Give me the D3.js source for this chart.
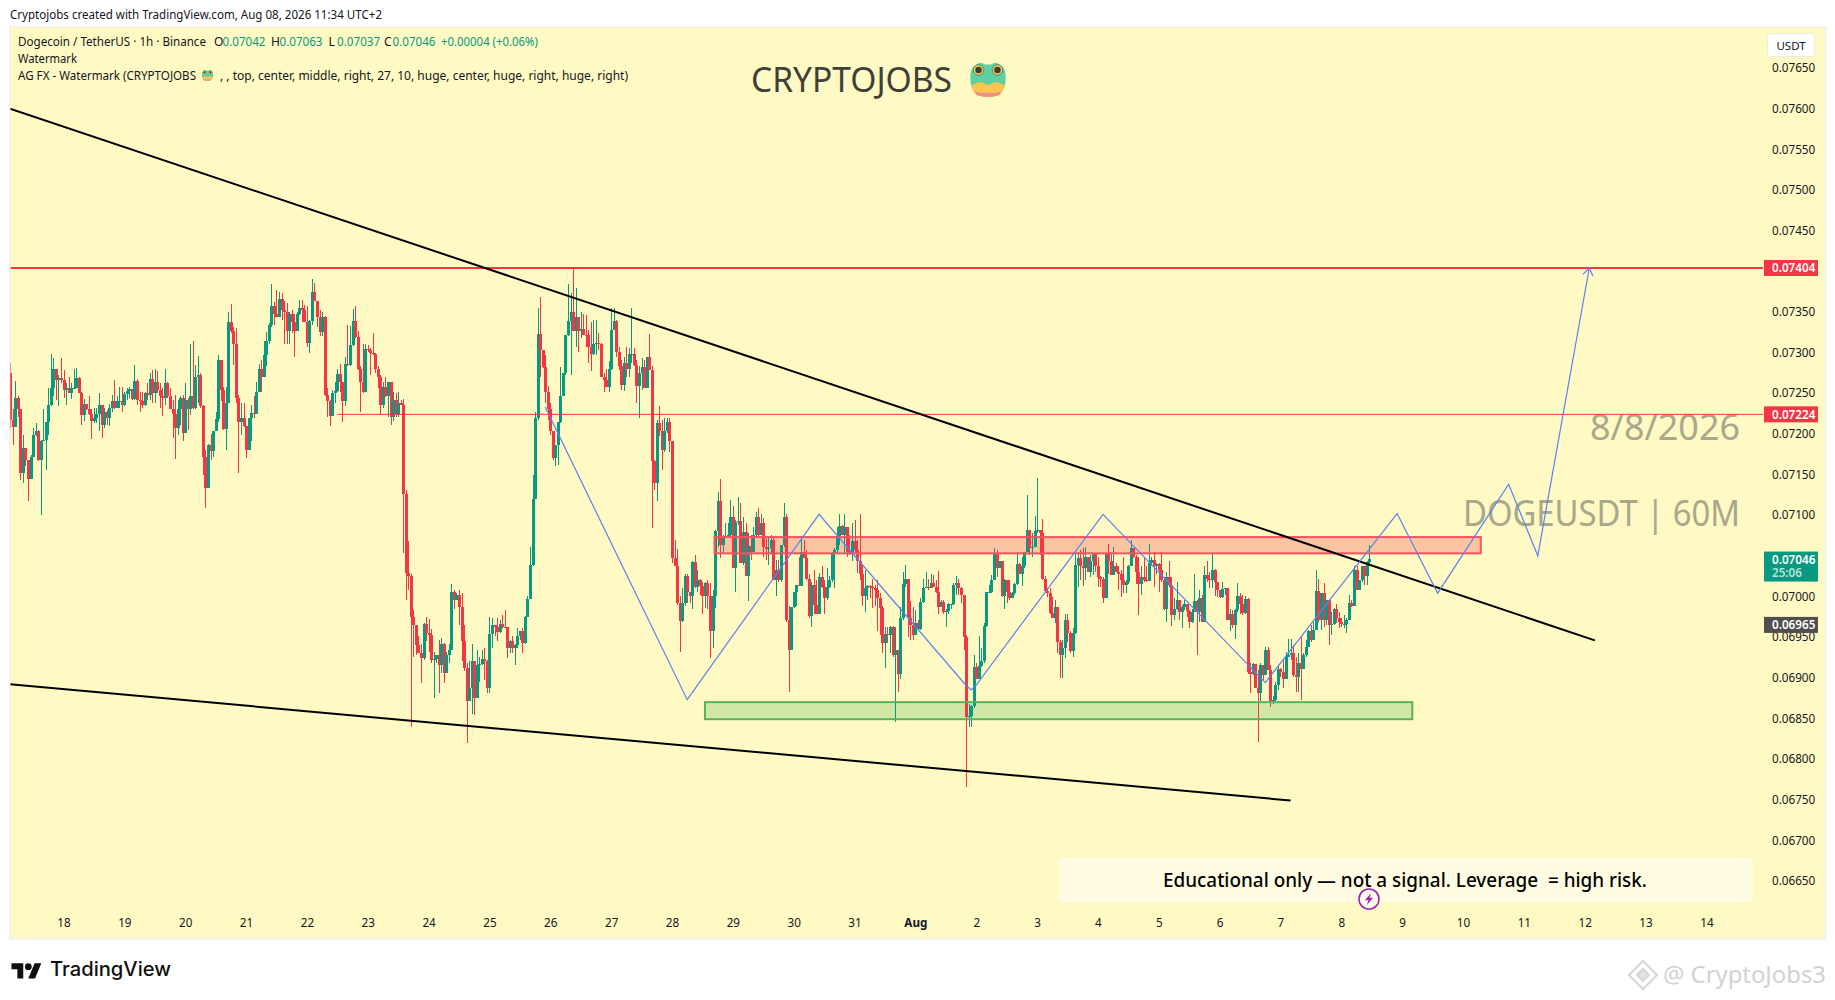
<!DOCTYPE html>
<html><head><meta charset="utf-8">
<script src="https://cdn.jsdelivr.net/npm/d3@7"></script>
<style>html,body{margin:0;padding:0;background:#fff;overflow:hidden}svg{display:block}text{font-family:"Noto Sans",sans-serif}</style>
</head><body><svg id="c" width="1835" height="1000"></svg>
<script>
// Prices in units of 0.00001 USDT, one candle per hour
const firstOpen = 7275;
const closes = [
7217,7209,7244,7230,7152,7182,7168,7145,7172,7198,7204,7168,7191,7193,7214,7236,7257,7280,7266,7269,
7266,7254,7256,7250,7257,7257,7269,7250,7223,7237,7230,7225,7216,7220,7225,7235,7211,7227,7219,7232,
7241,7232,7241,7241,7236,7249,7253,7255,7243,7265,7242,7240,7236,7250,7248,7268,7250,7264,7254,7246,
7244,7262,7247,7230,7225,7207,7230,7244,7201,7242,7230,7247,7232,7270,7273,7234,7171,7134,7186,7179,
7203,7218,7291,7254,7206,7238,7337,7326,7311,7244,7214,7220,7210,7180,7219,7226,7225,7252,7280,7270,
7297,7314,7334,7357,7348,7344,7366,7352,7350,7327,7348,7338,7327,7347,7355,7352,7338,7312,7339,7374,
7363,7344,7325,7344,7248,7240,7222,7250,7253,7274,7264,7241,7286,7285,7309,7339,7319,7280,7264,7252,
7304,7303,7299,7298,7280,7270,7236,7258,7246,7264,7221,7242,7223,7238,7236,7126,7029,7025,6975,6965,
6940,6931,6924,6966,6955,6952,6922,6923,6928,6916,6942,6906,6928,6934,7006,6996,7002,6987,6945,6912,
6871,6888,6921,6875,6916,6917,6923,6920,6887,6954,6965,6963,6956,6966,6963,6962,6936,6945,6936,6940,
6951,6957,6943,6975,6997,7039,7120,7219,7323,7303,7282,7252,7230,7203,7170,7186,7214,7247,7275,7322,
7339,7350,7327,7344,7327,7329,7322,7321,7307,7298,7311,7312,7311,7270,7266,7258,7280,7328,7339,7301,
7284,7260,7287,7280,7298,7298,7285,7259,7275,7282,7257,7294,7279,7166,7140,7213,7203,7180,7203,7214,
7191,7047,7037,6992,6970,6992,7025,7005,7000,7042,7012,7020,7013,7000,7017,7000,6957,7000,7080,7118,
7063,7074,7074,7075,7098,7035,7092,7093,7041,7079,7025,7062,7055,7076,7098,7076,7090,7061,7058,7059,
7069,7020,7033,7020,7063,7098,6971,6934,6987,7005,7014,7013,7055,7047,7022,6976,7014,6990,6979,7024,
7012,6998,7012,7020,7054,7057,7074,7087,7075,7086,7055,7053,7068,7057,7043,7027,7000,7010,7013,7012,
7010,7008,6998,6986,6943,6954,6953,6963,6928,6934,6904,6973,
7015,7021,6973,6965,6953,6967,6960,6993,7011,7012,7011,7016,7012,7005,6987,6993,6981,6982,6991,6991,
7014,7016,7010,7002,6950,6852,6853,6865,6913,6899,6914,6920,6964,7005,7005,7020,7053,7035,7043,7000,
7020,7006,6998,7004,7015,7040,7028,7037,7055,7082,7060,7061,7081,7082,7078,7021,7007,7004,6980,6974,
6987,6944,6928,6936,6971,6955,6933,6955,7039,7047,7037,7035,7049,7030,7044,7052,7037,7024,7022,6998,
7053,7043,7026,7037,7030,7028,7020,7014,7018,7037,7059,7049,7030,7015,7024,7020,7019,7041,7045,7037,
7040,7032,7020,6985,7024,7014,6977,6985,6996,6981,6987,6991,6982,6968,6981,6994,6981,6998,6969,7026,
7022,7020,7033,7018,7008,6999,7009,7010,6971,6979,6965,6983,7001,6991,6980,6997,6907,6905,6917,6887,
6881,6916,6903,6934,6910,6871,6873,6891,6911,6907,6899,6926,6928,6930,6903,6901,6918,6911,6928,6938,
6957,6946,6959,7007,6971,7004,6971,6996,6965,6966,6985,6973,6969,6966,6966,6971,6992,6988,7032,7008,
7020,7037,7025,7042,7046];
const highs = [
7287,7230,7265,7247,7230,7199,7182,7168,7174,7207,7213,7205,7193,7230,7214,7256,7298,7293,7280,7273,
7293,7279,7263,7270,7262,7280,7281,7270,7251,7243,7237,7247,7230,7232,7232,7250,7236,7232,7229,7237,
7248,7266,7247,7258,7258,7252,7257,7258,7255,7285,7268,7252,7252,7252,7262,7275,7279,7280,7277,7262,
7256,7280,7264,7256,7242,7248,7242,7246,7248,7262,7244,7311,7314,7285,7296,7275,7236,7180,7188,7200,
7203,7227,7297,7291,7258,7258,7350,7360,7332,7330,7248,7238,7238,7210,7219,7236,7247,7264,7286,7291,
7314,7325,7336,7384,7362,7377,7375,7373,7363,7361,7350,7352,7348,7350,7365,7365,7359,7357,7340,7391,
7385,7363,7352,7350,7345,7256,7242,7254,7264,7280,7286,7264,7295,7334,7333,7353,7357,7326,7283,7311,
7311,7309,7305,7324,7299,7284,7273,7264,7270,7264,7264,7252,7250,7252,7242,7243,7131,7068,7027,6983,
6965,6951,6942,6967,6975,6972,6960,6932,6928,6947,6949,6943,6932,6942,7015,7008,7004,7008,7004,6965,
6918,6920,6942,6920,6934,6926,6934,6936,6922,6975,6973,6965,6973,6971,6977,6983,6963,6947,6951,6942,
6961,6957,6961,6976,7000,7061,7150,7227,7355,7368,7303,7297,7259,7238,7203,7186,7215,7282,7275,7322,
7384,7373,7404,7379,7344,7350,7348,7346,7328,7338,7340,7340,7324,7312,7275,7280,7289,7355,7355,7340,
7307,7291,7295,7307,7305,7355,7305,7291,7283,7293,7291,7295,7323,7283,7168,7217,7234,7217,7220,7219,
7219,7191,7070,7058,7000,7010,7027,7027,7006,7043,7051,7033,7022,7018,7018,7020,7016,7008,7082,7129,
7144,7076,7090,7090,7119,7111,7094,7122,7115,7098,7090,7078,7076,7086,7104,7109,7102,7096,7074,7072,
7076,7074,7045,7045,7063,7115,7102,6988,6987,7006,7014,7049,7074,7070,7057,7027,7018,7033,7020,7029,
7037,7020,7035,7025,7055,7059,7086,7102,7088,7102,7086,7076,7090,7094,7070,7102,7037,7033,7014,7014,
7022,7014,7020,7004,6988,6963,6963,6964,6964,6963,6934,6987,
7030,7039,7021,6994,6987,6983,6971,6998,7022,7030,7022,7028,7026,7020,7031,6996,6996,6985,6992,6991,
7016,7025,7021,7012,7002,6953,6868,6866,6928,6918,6951,6936,6967,7005,7014,7026,7059,7057,7043,7043,
7022,7020,7020,7005,7016,7055,7041,7049,7055,7125,7082,7078,7099,7146,7082,7095,7025,7010,7010,6999,
6996,6987,6946,6946,6979,6979,6957,6961,7053,7055,7057,7060,7061,7049,7051,7053,7051,7049,7025,7024,
7054,7065,7053,7061,7041,7037,7032,7049,7020,7039,7070,7059,7051,7049,7037,7047,7037,7065,7049,7055,
7041,7041,7055,7024,7030,7043,7024,6998,7018,6996,6990,6996,6991,6983,6985,7028,6996,7008,7002,7037,
7043,7030,7055,7034,7018,7008,7018,7010,7010,6985,6983,6985,7016,7004,7002,7000,6998,6918,6918,6917,
6909,6918,6916,6938,6938,6916,6877,6895,6914,6912,6922,6932,6948,6948,6940,6926,6930,6950,6930,6946,
6959,6965,6969,7033,7022,7004,7016,6996,6996,6981,6986,6991,6981,6973,6977,6973,7002,6996,7037,7037,
7020,7037,7037,7043,7063];
const lows = [
7207,7186,7209,7221,7143,7140,7160,7118,7145,7172,7197,7166,7100,7191,7155,7199,7234,7246,7242,7234,
7262,7244,7236,7250,7243,7257,7257,7250,7211,7216,7229,7223,7194,7213,7213,7204,7195,7207,7211,7210,
7227,7230,7232,7232,7227,7234,7242,7244,7242,7242,7236,7227,7232,7234,7242,7242,7238,7238,7250,7232,
7222,7236,7244,7230,7195,7169,7198,7211,7191,7201,7205,7223,7230,7230,7238,7232,7150,7109,7134,7168,
7172,7203,7214,7240,7205,7180,7238,7324,7285,7238,7152,7199,7209,7170,7180,7191,7219,7225,7252,7252,
7270,7283,7311,7332,7334,7344,7344,7340,7311,7311,7311,7324,7295,7326,7346,7338,7338,7307,7300,7334,
7363,7332,7320,7320,7246,7221,7210,7222,7238,7252,7252,7215,7234,7284,7284,7308,7318,7279,7227,7250,
7252,7301,7273,7297,7275,7256,7223,7232,7245,7221,7211,7216,7221,7221,7235,7053,6996,7008,6839,6926,
6928,6930,6894,6922,6945,6932,6918,6875,6918,6881,6906,6894,6906,6918,6934,6984,6996,6965,6920,6908,
6820,6871,6856,6854,6875,6895,6916,6897,6881,6881,6936,6951,6945,6955,6961,6961,6924,6930,6930,6916,
6936,6947,6931,6942,6975,6997,7037,7120,7217,7270,7281,7238,7217,7199,7168,7161,7162,7213,7246,7273,
7320,7273,7326,7307,7301,7318,7322,7307,7287,7277,7297,7297,7303,7270,7251,7258,7252,7279,7328,7295,
7279,7254,7253,7270,7270,7287,7283,7238,7220,7254,7256,7256,7279,7084,7131,7118,7197,7156,7178,7201,
7178,7041,7037,6990,6932,6969,6988,6992,6992,6984,7010,7006,7002,6979,6986,6984,6924,6936,6986,7061,
7047,7053,7072,7072,7074,7035,7005,7088,7041,7039,7025,6995,7045,7055,7072,7074,7076,7049,7045,7039,
7053,7020,7000,7018,7018,7061,6969,6882,6934,6986,6988,7013,7014,7047,7020,6973,6963,6979,6978,6979,
7010,6979,6996,7010,7018,7010,7053,7063,7075,7053,7049,7051,7043,7053,7029,7020,6988,6981,6996,6998,
6986,6988,6957,6953,6930,6912,6943,6930,6926,6846,6883,6899,
6971,7012,6950,6946,6946,6953,6959,6959,6992,7010,7008,7010,7012,7004,6979,6987,6979,6962,6979,6985,
6989,7002,7002,6992,6934,6766,6840,6839,6863,6899,6899,6913,6918,6963,7004,7004,7020,7024,7035,6999,
6985,6992,6996,6998,7002,7014,7028,7013,7035,7055,7051,7048,7061,7078,7051,7020,7006,6999,6979,6973,
6967,6930,6900,6900,6924,6944,6930,6925,6954,7012,7020,7013,7020,7030,7024,7026,7030,7012,7012,6992,
6998,7028,7026,7028,7030,7008,6999,7004,7004,7015,7037,7047,7015,6977,7002,7018,7018,7019,7037,7012,
7028,7006,7018,6983,6969,7012,6964,6971,6983,6971,6961,6983,6975,6961,6967,6981,6928,6969,6969,6969,
7018,7010,7010,7000,6999,6998,6998,7002,6971,6957,6961,6948,6981,6979,6977,6979,6905,6881,6903,6887,
6821,6871,6897,6903,6910,6864,6868,6871,6885,6901,6887,6899,6926,6922,6901,6883,6883,6873,6911,6926,
6938,6944,6946,6959,6969,6959,6963,6965,6940,6952,6965,6967,6961,6963,6961,6955,6971,6987,6988,7008,
7008,7018,7014,7014,7037];
const lastCandleHour = 515;           // hours after 18 July 00:00
const priceTicks = [7650,7600,7550,7500,7450,7350,7300,7250,7200,7150,7100,7000,6950,6900,6850,6800,6750,6700,6650];
const dayLabels = ["18","19","20","21","22","23","24","25","26","27","28","29","30","31","Aug","2","3","4","5","6","7","8","9","10","11","12","13","14"];
const upperTrend = [[-21.1,7600],[604,6946]];
const lowerTrend = [[-21.1,6892],[484,6749]];
const forecast = [[190,7233],[246,6873],[298,7101],[355.6,6892],[358,6885],[360,6891],[410,7101],[474,6894],[526,7102],[542,7004],[570,7138],[581.5,7050],[601.8,7404]];
const resistanceZone = {from:256.8,to:559,top:7073,bottom:7053};
const supportZone = {from:253,to:532,top:6870,bottom:6849};
const levelStrong = 7404, levelThin = 7224, levelThinFrom = 108;
const lastPrice = 7046, prevClose = 6965, levelTags = [[levelStrong,"#f23645"],[levelThin,"#f23645"],[prevClose,"#4f4f4f"]];

const svg = d3.select("#c");
const GREEN="#089981", RED="#f23645", BG="#fff9c4", BLUE="#5b82f0";
const x = d3.scaleLinear().domain([0,27*24]).range([63.5,1706.4]);
const y = d3.scaleLinear().domain([7650,6650]).range([68,881]);
const L=10.5,R=1825,T=27.5,B=938,PR=1763;

svg.append("rect").attr("x",L-1.5).attr("y",T-1.5).attr("width",R-L+3).attr("height",B-T+3).attr("fill","#f0f0ec");
svg.append("rect").attr("x",L).attr("y",T).attr("width",R-L).attr("height",B-T).attr("fill",BG);
svg.append("defs").append("clipPath").attr("id","plot").append("rect").attr("x",L).attr("y",T).attr("width",PR-L).attr("height",B-T);
const plot = svg.append("g").attr("clip-path","url(#plot)");

function txt(s,px,py,o={}){
  const t=svg.append("text").attr("x",px).attr("y",py).text(s)
    .attr("font-size",o.size||12).attr("fill",o.fill||"#131722").style("font-family",o.font||'"Noto Sans"');
  if(o.len) t.attr("textLength",o.len).attr("lengthAdjust","spacingAndGlyphs");
  if(o.weight) t.attr("font-weight",o.weight);
  if(o.anchor) t.attr("text-anchor",o.anchor);
  return t;
}
function zoneFill(z,fill){
  plot.append("rect").attr("x",x(z.from)).attr("y",y(z.top)).attr("width",x(z.to)-x(z.from)).attr("height",y(z.bottom)-y(z.top)).attr("fill",fill);
}
function zoneEdge(z,stroke){
  plot.append("rect").attr("x",x(z.from)).attr("y",y(z.top)).attr("width",x(z.to)-x(z.from)).attr("height",y(z.bottom)-y(z.top))
   .attr("fill","none").attr("stroke",stroke).attr("stroke-width",2);
}
zoneFill(resistanceZone,"#fbc5a1");
zoneFill(supportZone,"#d1e7a5");

// chart watermarks
const wm = plot.append("g");
wm.append("text").attr("x",1740).attr("y",440).attr("text-anchor","end").attr("font-size",37).attr("fill","#a9a78c").attr("textLength",150).attr("lengthAdjust","spacingAndGlyphs").text("8/8/2026");
wm.append("text").attr("x",1740).attr("y",526).attr("text-anchor","end").attr("font-size",37).attr("fill","#a9a78c").attr("textLength",277).attr("lengthAdjust","spacingAndGlyphs").text("DOGEUSDT | 60M");

// candles
const n=closes.length;
const candles=closes.map((c,i)=>({h:lastCandleHour-(n-1-i),o:i?closes[i-1]:firstOpen,c,hi:highs[i],lo:lows[i]}));
const col=d=>d.c>=d.o?GREEN:RED;
const cg=plot.append("g").attr("shape-rendering","crispEdges");
cg.selectAll(".w").data(candles).join("rect").attr("class","w").attr("x",d=>Math.round(x(d.h))).attr("width",1)
  .attr("y",d=>y(Math.max(d.hi,d.o,d.c))).attr("height",d=>y(Math.min(d.lo,d.o,d.c))-y(Math.max(d.hi,d.o,d.c))).attr("fill",col);
cg.selectAll(".b").data(candles).join("rect").attr("class","b").attr("x",d=>Math.round(x(d.h))-1).attr("width",3)
  .attr("y",d=>y(Math.max(d.o,d.c))).attr("height",d=>Math.max(1,Math.abs(y(d.o)-y(d.c)))).attr("fill",col);

zoneEdge(resistanceZone,"#f7525f");
zoneEdge(supportZone,"#5cb25c");

// levels
plot.append("line").attr("x1",L).attr("x2",PR).attr("y1",y(levelStrong)).attr("y2",y(levelStrong)).attr("stroke",RED).attr("stroke-width",2);
plot.append("line").attr("x1",x(levelThinFrom)).attr("x2",PR).attr("y1",y(levelThin)).attr("y2",y(levelThin)).attr("stroke",RED).attr("stroke-width",1);

// trend lines
const ln=d3.line().x(d=>x(d[0])).y(d=>y(d[1]));
[upperTrend,lowerTrend].forEach(t=>plot.append("path").attr("d",ln(t)).attr("fill","none").attr("stroke","#000").attr("stroke-width",2));

// forecast path with arrow head
plot.append("path").attr("d",ln(forecast)).attr("fill","none").attr("stroke",BLUE).attr("stroke-width",1.2);
const a=forecast[forecast.length-1], b=forecast[forecast.length-2];
const ang=Math.atan2(y(a[1])-y(b[1]),x(a[0])-x(b[0]));
const tip=[x(a[0]),y(a[1])];
const head=[-1,1].map(s=>[tip[0]-9*Math.cos(ang+s*0.6),tip[1]-9*Math.sin(ang+s*0.6)]);
plot.append("path").attr("d",`M${head[0]}L${tip}L${head[1]}`).attr("fill","none").attr("stroke",BLUE).attr("stroke-width",1.2);

// notice box
plot.append("rect").attr("x",1059).attr("y",858).attr("width",694).attr("height",44).attr("fill","#fffce3");
txt("Educational only — not a signal. Leverage  = high risk.",1163,887,{size:20,fill:"#000",len:484,weight:500}).style("white-space","pre");

// lightning mark
const lg=svg.append("g").attr("transform","translate(1369,899)");
lg.append("circle").attr("r",10).attr("fill","#fffdf2").attr("stroke","#9c27b0").attr("stroke-width",1.6);
lg.append("path").attr("d","M2,-6 L-4,1.2 L-0.6,1.2 L-2,6 L4,-1.2 L0.6,-1.2 Z").attr("fill","#9c27b0");

// axes
const yAxis=d3.axisRight(y).tickValues(priceTicks).tickFormat(d=>(d/1e5).toFixed(5)).tickSize(0).tickPadding(0);
const yg=svg.append("g").attr("transform","translate(1772,0)").call(yAxis);
yg.select(".domain").remove();
yg.selectAll("text").attr("font-size",11.7).attr("fill","#131722").style("font-family",'"Noto Sans"');
const xAxis=d3.axisBottom(x).tickValues(dayLabels.map((_,i)=>i*24)).tickFormat((d,i)=>dayLabels[i]).tickSize(0).tickPadding(0);
const xg=svg.append("g").attr("transform","translate(0,919)").call(xAxis);
xg.select(".domain").remove();
xg.selectAll("text").attr("font-size",11.7).attr("fill","#131722").style("font-family",'"Noto Sans"')
  .attr("font-weight",(d,i)=>dayLabels[i]==="Aug"?700:400);

// price tags
levelTags.forEach(([p,c])=>{
  svg.append("rect").attr("x",1764).attr("y",y(p)-8).attr("width",54).attr("height",16).attr("fill",c);
  txt((p/1e5).toFixed(5),1772,y(p)+4.2,{size:11.7,fill:"#fff",weight:600});
});
svg.append("rect").attr("x",1764).attr("y",y(lastPrice)-7.5).attr("width",54).attr("height",30).attr("fill",GREEN);
txt((lastPrice/1e5).toFixed(5),1772,y(lastPrice)+4.5,{size:11.7,fill:"#fff",weight:600});
txt("25:06",1772,y(lastPrice)+18,{size:11.7,fill:"#b5e3d8",weight:600});

// currency button
svg.append("rect").attr("x",1767.5).attr("y",33.5).attr("width",47).attr("height",23).attr("rx",3).attr("fill","#fff").attr("stroke","#ecece4");
txt("USDT",1791,49.5,{size:11.5,anchor:"middle"});

// frog emoji
function frog(cx,cy,s){
  const g=svg.append("g").attr("transform",`translate(${cx},${cy}) scale(${s})`);
  g.append("path").attr("d","M-15,-1 C-15,-9 -13,-11 -11,-12 A6.5,6.5 0 0 1 -2,-13 Q0,-13.6 2,-13 A6.5,6.5 0 0 1 11,-12 C13,-11 15,-9 15,-1 C15,4 13,10 9,13 Q0,16 -9,13 C-13,10 -15,4 -15,-1Z").attr("fill","#5fd0a2");
  g.append("path").attr("d","M-14,5 Q-8,0 -3,3 Q0,5 3,3 Q8,0 14,5 C13,9 11,12 9,13 Q0,16 -9,13 C-11,12 -13,9 -14,5Z").attr("fill","#fcc653");
  g.append("path").attr("d","M-11,10 Q0,12 11,10 C10.5,11.5 10,12.5 9,13 Q0,16 -9,13 C-10,12.5 -10.5,11.5 -11,10Z").attr("fill","#f38f80");
  [-8,8].forEach(ex=>{
    g.append("circle").attr("cx",ex).attr("cy",-8.5).attr("r",4.5).attr("fill","#f3c549").attr("stroke","#3d8f77").attr("stroke-width",0.8);
    g.append("circle").attr("cx",ex).attr("cy",-8.5).attr("r",2.7).attr("fill","#3a3a36");
  });
}
// header and legend
txt("Cryptojobs created with TradingView.com, Aug 08, 2026 11:34 UTC+2",10,19,{size:12,len:372,fill:"#131722"});
txt("Dogecoin / TetherUS · 1h · Binance",18,46,{len:188});
const ohlc=[["O","0.07042",214],["H","0.07063",271],["L","0.07037",328.6],["C","0.07046",384]];
ohlc.forEach(([k,v,px])=>{ txt(k,px,46,{}); txt(v,px+8.5,46,{fill:GREEN,len:43}); });
txt("+0.00004 (+0.06%)",441,46,{fill:GREEN,len:97});
txt("Watermark",18,63,{len:59});
txt("AG FX - Watermark (CRYPTOJOBS",18,80,{len:178});
frog(207.5,75.5,0.37);
txt(", , top, center, middle, right, 27, 10, huge, center, huge, right, huge, right)",220,80,{len:408});
txt("CRYPTOJOBS",751,92,{size:34,fill:"#3f3f3a",len:201});
frog(988,80,1.18);

// footer
const tv=svg.append("g").attr("transform","translate(11.5,960) scale(0.84)");
tv.append("path").attr("d","M14 22H7V11H0V4h14v18zM28 22h-8l7.5-18h8L28 22z").attr("fill","#0f0f0f");
tv.append("circle").attr("cx",20).attr("cy",8).attr("r",4).attr("fill","#0f0f0f");
txt("TradingView",50,976,{size:20,weight:500,fill:"#0f0f0f",len:121,font:'"Inter"'});
const bn=svg.append("g").attr("transform","translate(1643,975)").attr("fill","none").attr("stroke","#d6d6d6").attr("stroke-width",2);
bn.append("path").attr("d","M0,-14 L14,0 L0,14 L-14,0 Z");
bn.append("path").attr("d","M0,-6 L6,0 L0,6 L-6,0 Z").attr("fill","#e2e2e2");
txt("@ CryptoJobs3",1663,983,{size:24,fill:"#d2d2d2",len:163});
</script></body></html>
